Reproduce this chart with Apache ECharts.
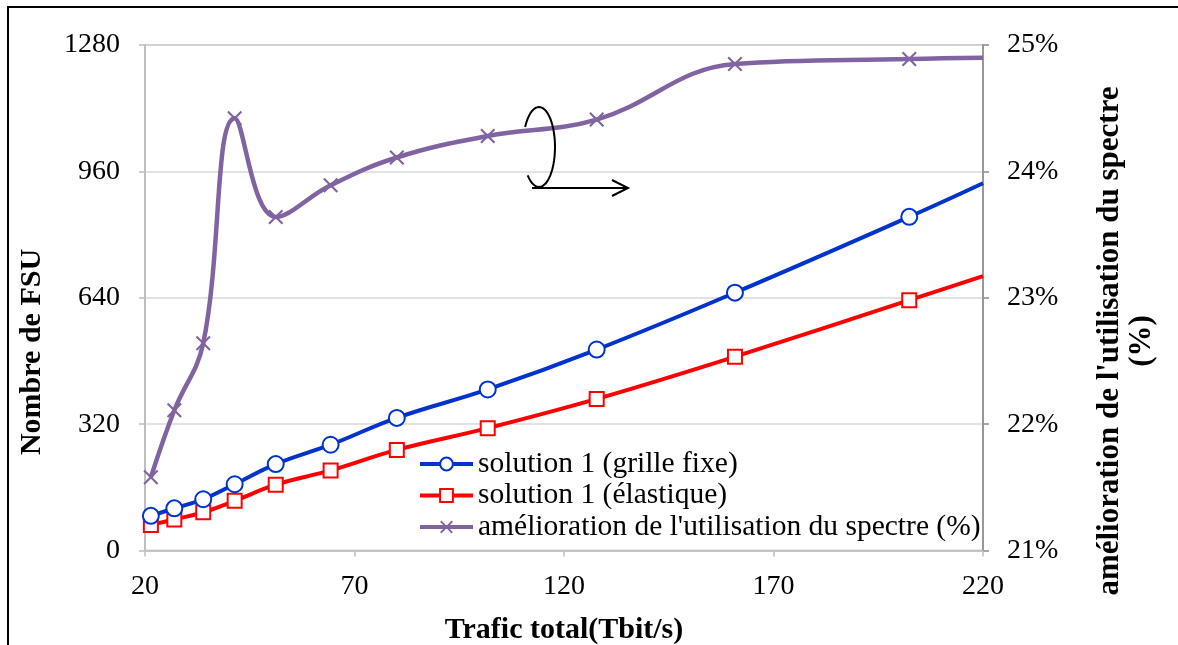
<!DOCTYPE html>
<html>
<head>
<meta charset="utf-8">
<script src="https://cdn.jsdelivr.net/npm/echarts@6/dist/echarts.min.js"></script>
<style>
html,body{margin:0;padding:0;background:#fff;overflow:hidden;}
#chart{width:1178px;height:645px;}
</style>
</head>
<body>
<div id="chart"></div>
<script>
// ---- data ----
const xTraffic       = [21.4, 27.0, 33.9, 41.4, 51.2, 64.3, 80.1, 101.8, 127.8, 160.8, 202.4, 220];
const fsuGrilleFixe  = [88, 107, 130, 168, 219, 268, 336, 408, 509, 653, 845, 930];
const fsuElastique   = [65, 79, 97, 126, 167, 203, 255, 310, 384, 491, 634, 695];
const amelioration   = [21.58, 22.11, 22.64, 24.42, 23.64, 23.89, 24.11, 24.28, 24.41, 24.85, 24.89, 24.90];
const seriesNames    = ['solution 1 (grille fixe)', 'solution 1 (élastique)', "amélioration de l'utilisation du spectre (%)"];
const xAxisTitle     = 'Trafic total(Tbit/s)';
const yLeftTitle     = 'Nombre de FSU';
const yRightTitle    = "amélioration de l'utilisation du spectre\n(%)";

const FONT = "'Liberation Serif','Times New Roman',serif";
const FS = 28;
const lastIdx = xTraffic.length - 1;

function build(ys) {
  return xTraffic.map((x, i) => {
    const item = { value: [x, ys[i]] };
    if (i === lastIdx) item.symbol = 'none';
    return item;
  });
}

const crossPath = 'path://M0,1L1,0L5,4L9,0L10,1L6,5L10,9L9,10L5,6L1,10L0,9L4,5Z';

// annotation ellipse (decorative)
const ell = [];
const ecx = 539, ecy = 147, erx = 16, ery = 40;
for (let a = -150; a <= 135; a += 5) {
  const t = a * Math.PI / 180;
  ell.push([ecx + erx * Math.cos(t), ecy + ery * Math.sin(t)]);
}

const chart = echarts.init(document.getElementById('chart'), null, { renderer: 'canvas' });
chart.setOption({
  backgroundColor: '#fff',
  animation: false,
  textStyle: { fontFamily: FONT },
  grid: { left: 145, right: 195, top: 45, bottom: 94.4, show: true, borderColor: '#a6a6a6', borderWidth: 1.5, backgroundColor: 'transparent', containLabel: false, outerBoundsMode: 'none' },
  legend: {
    orient: 'vertical',
    left: 418, top: 449,
    padding: 0,
    itemWidth: 53, itemHeight: 16, itemGap: 1.5,
    lineStyle: { width: 4 },
    textStyle: { fontFamily: FONT, fontSize: 29.5, color: '#000', lineHeight: 30 },
    data: seriesNames
  },
  xAxis: {
    type: 'value', min: 20, max: 220, interval: 50,
    name: xAxisTitle, nameLocation: 'middle', nameGap: 65,
    nameTextStyle: { fontFamily: FONT, fontSize: 30, fontWeight: 'bold', color: '#000' },
    axisLine: { lineStyle: { color: '#bfbfbf', width: 1.5 } },
    axisTick: { show: true, length: 6, lineStyle: { color: '#bfbfbf', width: 1.5 } },
    axisLabel: { fontFamily: FONT, fontSize: FS, color: '#000', margin: 22 },
    splitLine: { show: false }
  },
  yAxis: [{
    type: 'value', min: 0, max: 1280, interval: 320, position: 'left',
    axisLine: { show: true, lineStyle: { color: '#bfbfbf', width: 1.5 } },
    axisTick: { show: true, length: 6, lineStyle: { color: '#bfbfbf', width: 1.5 } },
    axisLabel: { fontFamily: FONT, fontSize: FS, color: '#000', margin: 25, formatter: v => String(v) },
    splitLine: { show: true, lineStyle: { color: '#d9d9d9', width: 1.5 } }
  }, {
    type: 'value', min: 21, max: 25, interval: 1, position: 'right',
    axisLine: { show: true, lineStyle: { color: '#8c8c8c', width: 1.5 } },
    axisTick: { show: true, length: 6, lineStyle: { color: '#8c8c8c', width: 1.5 } },
    axisLabel: { fontFamily: FONT, fontSize: FS, color: '#000', margin: 24, formatter: '{value}%' },
    splitLine: { show: false }
  }],
  series: [{
    name: seriesNames[0], type: 'line', yAxisIndex: 0, smooth: 0.4,
    data: build(fsuGrilleFixe),
    symbol: 'circle', symbolSize: 16, showAllSymbol: true,
    lineStyle: { color: '#0033cc', width: 4 },
    itemStyle: { color: '#ffffff', borderColor: '#0033cc', borderWidth: 2 },
    z: 4
  }, {
    name: seriesNames[1], type: 'line', yAxisIndex: 0, smooth: 0.4,
    data: build(fsuElastique),
    symbol: 'rect', symbolSize: 14, showAllSymbol: true,
    lineStyle: { color: '#ff0000', width: 4 },
    itemStyle: { color: '#ffffff', borderColor: '#ff0000', borderWidth: 2 },
    z: 3
  }, {
    name: seriesNames[2], type: 'line', yAxisIndex: 1, smooth: 0.4,
    data: build(amelioration),
    symbol: crossPath, symbolSize: 15, showAllSymbol: true,
    lineStyle: { color: '#8064a2', width: 4.5 },
    itemStyle: { color: '#8064a2' },
    z: 2
  }],
  graphic: [
    { type: 'rect', shape: { x: 8, y: 7, width: 1300, height: 800 }, style: { fill: 'none', stroke: '#000', lineWidth: 2 }, z: 0, silent: true },
    { type: 'text', x: 32, y: 352, rotation: Math.PI / 2, style: { text: yLeftTitle, font: 'bold 30px ' + FONT, fill: '#000', align: 'center', verticalAlign: 'middle' }, silent: true },
    { type: 'text', x: 1126, y: 341, rotation: Math.PI / 2, style: { text: yRightTitle, font: 'bold 31px ' + FONT, fill: '#000', align: 'center', verticalAlign: 'middle', lineHeight: 32 }, silent: true },
    { type: 'polyline', shape: { points: ell }, style: { fill: 'none', stroke: '#000', lineWidth: 2 }, z: 10, silent: true },
    { type: 'line', shape: { x1: 532, y1: 188, x2: 628, y2: 188 }, style: { stroke: '#000', lineWidth: 2 }, z: 10, silent: true },
    { type: 'polyline', shape: { points: [[612, 180], [628, 188], [612, 196]] }, style: { fill: 'none', stroke: '#000', lineWidth: 2 }, z: 10, silent: true }
  ]
});
</script>
</body>
</html>
